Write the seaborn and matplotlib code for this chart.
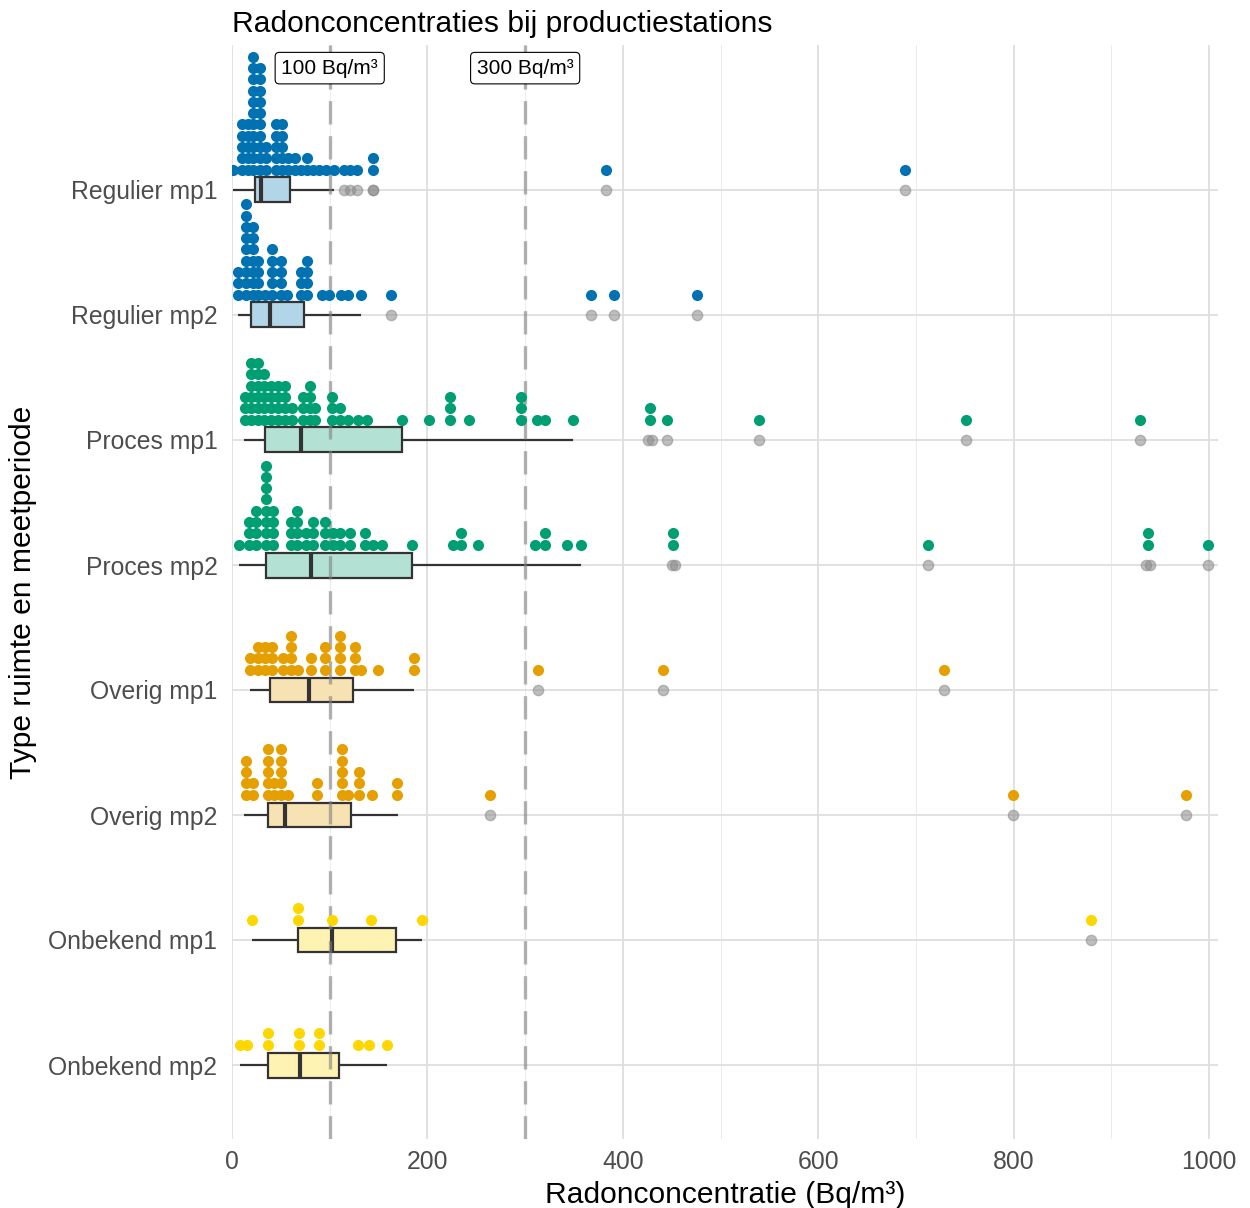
import numpy as np
import pandas as pd
import matplotlib
matplotlib.use("Agg")
import matplotlib.pyplot as plt
import seaborn as sns

plt.rcParams["font.family"] = ["Liberation Sans", "DejaVu Sans"]

# ---------------- data ----------------
groups = ["Regulier mp1", "Regulier mp2", "Proces mp1", "Proces mp2",
          "Overig mp1", "Overig mp2", "Onbekend mp1", "Onbekend mp2"]

regulier_mp1 = [1.5, 8.5, 10, 10.5, 11, 11.9, 13.6, 15, 16, 17, 18.2,
                19, 23.4, 23.5, 23.6, 23.7, 23.8, 23.8, 23.9, 23.9, 23.9, 23.9,
                27.1, 27.5, 28, 28.2, 28.4, 28.6, 28.8, 29, 29.4, 29.7,
                34.8, 34.8, 34.8, 45, 45, 45, 45, 45, 51, 51, 51, 51, 51,
                57.3, 57.3, 62.4, 65.6, 70.6, 76.3, 76.3, 83, 89, 96, 104.5,
                115, 120.8, 128, 144.8, 144.8, 382.8, 688.8]
regulier_mp2 = [5.8, 6.5, 7.2, 14, 14, 14, 14, 14, 14, 14, 14, 14,
                19.4, 19.5, 21, 22, 23, 24, 24.2, 27, 27, 27, 27, 33.8,
                38.9, 39.0, 40, 41.5, 42.3, 50, 50, 50, 50, 56,
                69.2, 70, 72, 74.7, 76, 77, 78.1, 91.8, 99.3, 111.6, 119,
                132.5, 162.4, 367.5, 391, 476]
proces_mp1 = [12.6, 13.3, 14, 19.4, 19.4, 19.4, 19.4, 19.4, 19.4,
              26.3, 26.3, 26.3, 26.3, 26.3, 26.3, 31.4, 33, 33.8, 34, 34.6,
              40, 40, 40, 40, 47.4, 47.4, 47.4, 47.4, 54.2, 54.2, 54.2, 54.2,
              61, 61, 70.6, 73, 75.4, 79.8, 79.8, 79.8, 79.8, 85, 85,
              102, 102, 102, 110.5, 110.5, 119, 129.3, 137.8, 173.7, 201.6,
              223, 223, 223, 242.6, 295.8, 295.8, 295.8, 311.8, 320.4, 349.3,
              426, 429.5, 445, 539, 751, 929]
proces_mp2 = [6.8, 17, 17, 17, 24.9, 24.9, 24.9, 24.9,
              35.1, 35.1, 35.1, 35.1, 35.1, 35.1, 35.1, 35.1, 42, 42, 42, 42,
              60.7, 60.7, 60.7, 66.8, 66.8, 66.8, 66.8, 75.2, 76.8,
              80.5, 80.5, 85.3, 94.9, 94.9, 94.9, 103.4, 103.4, 110.5, 110.5,
              120.8, 120.8, 136, 136, 144.6, 153.2, 184, 226.5, 234.4, 234.4,
              252, 310, 320.4, 320.4, 342.6, 357.2, 450, 453, 712, 935.5, 939, 999]
overig_mp1 = [18.4, 18.4, 27, 27, 27, 33.8, 33.8, 33.8, 38.9, 38.9, 42.3,
              52.5, 52.5, 60.4, 60.4, 60.4, 60.4, 67.9, 79.1, 82.7,
              95.2, 95.2, 95.2, 110.5, 110.5, 110.5, 110.5, 123.5, 125.9, 128.3,
              132, 149, 186.6, 186.6, 313.2, 441, 728.8]
overig_mp2 = [12.6, 14, 14, 15.4, 21.8, 21.8, 35, 36, 37.2, 37.2, 38,
              43.3, 43.3, 48.4, 49, 50, 51, 52, 57, 86.7, 86.7,
              112.3, 112.3, 112.3, 112.3, 112.3, 118.4, 130.3, 130.3, 130.3,
              143, 167.2, 170, 264, 799.4, 976.5]
onbekend_mp1 = [20.1, 67.9, 67.9, 102.7, 141.9, 194.1, 879]
onbekend_mp2 = [8.2, 15, 37.2, 37.2, 67.9, 69.6, 89.4, 89.4, 129.3, 140.6, 159]

series = [regulier_mp1, regulier_mp2, proces_mp1, proces_mp2,
          overig_mp1, overig_mp2, onbekend_mp1, onbekend_mp2]

type_colors = {"Regulier": "#0072B2", "Proces": "#009E73",
               "Overig": "#E69F00", "Onbekend": "#FFD700"}
x_ticks = [0, 200, 400, 600, 800, 1000]
ref_lines = [100, 300]
ref_labels = ["100 Bq/m³", "300 Bq/m³"]

title = "Radonconcentraties bij productiestations"
x_title = "Radonconcentratie (Bq/m³)"
y_title = "Type ruimte en meetperiode"

# ---------------- helpers ----------------
def lighten(hex_color, a=0.3):
    rgb = np.array(matplotlib.colors.to_rgb(hex_color))
    return tuple(a * rgb + (1 - a))

def dot_bins(values, bw):
    v = np.sort(np.asarray(values, float))
    out = []
    i = 0
    while i < len(v):
        j = i
        while j < len(v) and v[j] < v[i] + bw:
            j += 1
        out.append(((v[i] + v[j - 1]) / 2.0, j - i))
        i = j
    return out

df = pd.DataFrame({
    "groep": np.repeat(groups, [len(s) for s in series]),
    "waarde": np.concatenate([np.asarray(s, float) for s in series]),
})

group_type = {g: g.split()[0] for g in groups}
box_palette = {g: lighten(type_colors[group_type[g]]) for g in groups}

# ---------------- figure ----------------
W, H = 1250, 1208
fig = plt.figure(figsize=(W / 100, H / 100), dpi=100)
ax = fig.add_axes([232 / W, (H - 1139) / H, (1218 - 232) / W, (1139 - 45) / H])

sns.boxplot(data=df, x="waarde", y="groep", order=groups, hue="groep",
            hue_order=groups, palette=box_palette, saturation=1, width=0.2,
            dodge=False, legend=False, linewidth=1.6, linecolor="#333333",
            fliersize=7.4,
            flierprops=dict(marker="o", markerfacecolor="#8a8a8a",
                            markeredgecolor="#8a8a8a", alpha=0.55),
            medianprops=dict(linewidth=3.0, color="#333333"),
            capprops=dict(linewidth=0),
            ax=ax, zorder=2)

# reference lines
for xv in ref_lines:
    ax.axvline(xv, color="#808080", alpha=0.6, lw=2.4, ls=(0, (7, 3.5)), zorder=3)

# dot stacks
base_off = 0.163
step = 0.0904
for i, (g, vals) in enumerate(zip(groups, series)):
    xs, ys = [], []
    for center, cnt in dot_bins(vals, 5.0):
        for k in range(cnt):
            xs.append(center)
            ys.append(i - base_off - k * step)
    ax.scatter(xs, ys, s=64, color=type_colors[group_type[g]], linewidths=0,
               zorder=4)

# labels for reference lines
for xv, lab in zip(ref_lines, ref_labels):
    ax.text(xv, -0.975, lab, ha="center", va="center", fontsize=15,
            color="black", zorder=6,
            bbox=dict(boxstyle="round,pad=0.3,rounding_size=0.2",
                      fc="white", ec="black", lw=0.8))

ax.set_xlim(0, 1009)
ax.set_ylim(7.592, -1.16)
ax.set_xticks(x_ticks)
ax.set_xticks([100, 300, 500, 700, 900], minor=True)
ax.set_xticklabels([str(t) for t in x_ticks])
ax.grid(which="major", axis="both", color="#DEDEDE", lw=1.3)
ax.grid(which="minor", axis="x", color="#EBEBEB", lw=0.7)
ax.set_axisbelow(True)
for sp in ax.spines.values():
    sp.set_visible(False)
ax.tick_params(axis="both", which="both", length=0, labelsize=17.8,
               labelcolor="#4D4D4D")
ax.tick_params(axis="y", pad=10.5)
ax.tick_params(axis="x", pad=8)

ax.set_xlabel(x_title, fontsize=21.6, color="black", labelpad=5)
ax.set_ylabel(y_title, fontsize=21.6, color="black", labelpad=8)
fig.text(232 / W, 1 - 23.5 / H, title, ha="left", va="center", fontsize=21.6,
         color="black")

fig.savefig("out.png", dpi=100, facecolor="white")
